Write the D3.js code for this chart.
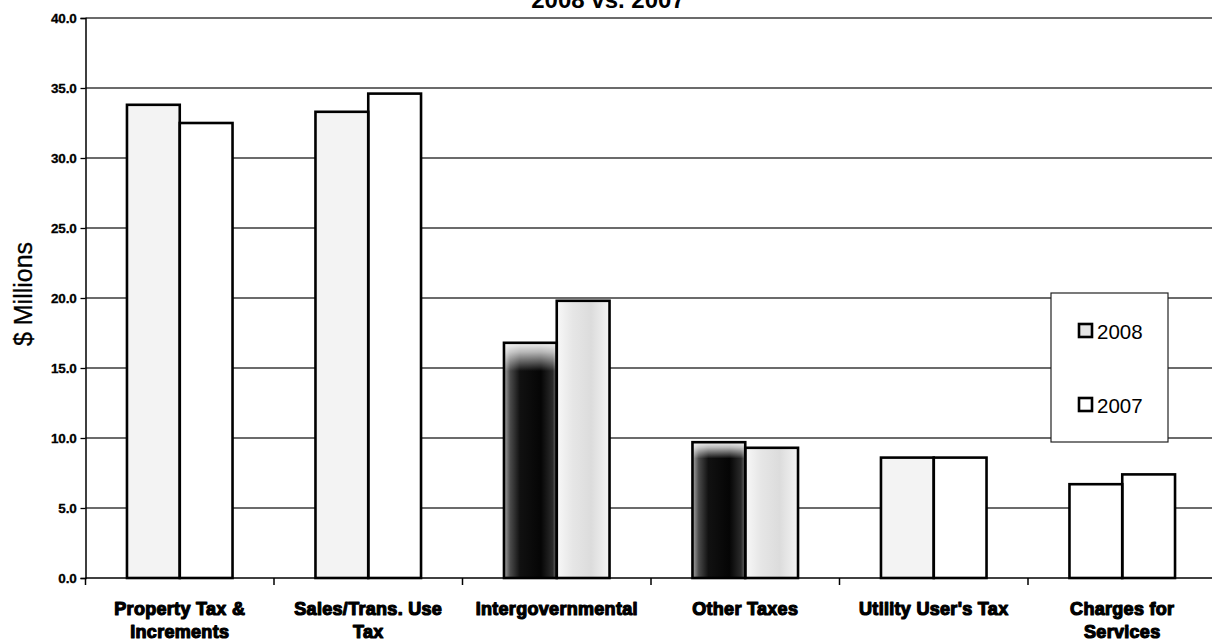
<!DOCTYPE html>
<html>
<head>
<meta charset="utf-8">
<script src="https://cdn.jsdelivr.net/npm/d3@7"></script>
<style>
  html, body { margin: 0; padding: 0; background: #fff; }
  svg { display: block; }
</style>
</head>
<body>
<svg id="chart" width="1212" height="644"></svg>
<script>
// ---- data ----
const title = "2008 vs. 2007";
const yTitle = "$ Millions";
const categories = [
  "Property Tax &\nIncrements",
  "Sales/Trans. Use\nTax",
  "Intergovernmental",
  "Other Taxes",
  "Utility User's Tax",
  "Charges for\nServices"
];
const seriesNames = ["2008", "2007"];
const values2008 = [33.8, 33.3, 16.8, 9.7, 8.6, 6.7];
const values2007 = [32.5, 34.6, 19.8, 9.3, 8.6, 7.4];
const yTicks = [0, 5, 10, 15, 20, 25, 30, 35, 40];

// ---- layout ----
const W = 1212, H = 644;
const plotLeft = 85.5, plotTop = 18, plotBottom = 578;
const step = 188.5;
const plotRight = plotLeft + step * categories.length;

const svg = d3.select("#chart");

const defs = svg.append("defs");
const dark = defs.append("linearGradient").attr("id", "darkGrad")
  .attr("x1", "0").attr("x2", "1").attr("y1", "0").attr("y2", "0");
[["0%", "#a8a8a8"], ["12%", "#4a4a4a"], ["30%", "#111"], ["70%", "#050505"], ["92%", "#2a2a2a"], ["100%", "#707070"]]
  .forEach(([o, c]) => dark.append("stop").attr("offset", o).attr("stop-color", c));
const topFade = defs.append("linearGradient").attr("id", "topFade")
  .attr("x1", "0").attr("x2", "0").attr("y1", "0").attr("y2", "1");
[["0%", "#fff", 0.95], ["4%", "#fff", 0.7], ["12%", "#fff", 0], ["100%", "#fff", 0]]
  .forEach(([o, c, a]) => topFade.append("stop").attr("offset", o).attr("stop-color", c).attr("stop-opacity", a));
const lightGrad = defs.append("linearGradient").attr("id", "lightGrad")
  .attr("x1", "0").attr("x2", "1").attr("y1", "0").attr("y2", "0");
[["0%", "#f8f8f8"], ["30%", "#e6e6e6"], ["65%", "#dcdcdc"], ["100%", "#f4f4f4"]]
  .forEach(([o, c]) => lightGrad.append("stop").attr("offset", o).attr("stop-color", c));

const y = d3.scaleLinear().domain([0, 40]).range([plotBottom, plotTop]);
const x0 = d3.scaleBand().domain(categories).range([plotLeft, plotRight])
  .paddingInner(0.44).paddingOuter(0.22);
const x1 = d3.scaleBand().domain(seriesNames).range([0, x0.bandwidth()]);

// gridlines
svg.append("g").selectAll("line").data(yTicks.filter(d => d > 0)).join("line")
  .attr("x1", plotLeft).attr("x2", W + 10)
  .attr("y1", d => y(d)).attr("y2", d => y(d))
  .attr("stroke", "#3a3a3a").attr("stroke-width", 1.3);

// y axis
const yAxis = d3.axisLeft(y).tickValues(yTicks).tickSize(5).tickPadding(4)
  .tickFormat(d3.format(".1f"));
const gy = svg.append("g").attr("transform", `translate(${plotLeft},0)`).call(yAxis);
gy.select(".domain").attr("stroke", "#000").attr("stroke-width", 1.5);
gy.selectAll(".tick line").attr("stroke", "#000").attr("stroke-width", 1.3);
gy.selectAll(".tick text")
  .attr("font-family", "'Liberation Sans', Arial, sans-serif")
  .attr("font-weight", "bold").attr("font-size", 13.5).attr("fill", "#000")
  .attr("stroke", "#000").attr("stroke-width", 0.3)
  .attr("letter-spacing", -0.2);

// bars
const darkCats = new Set(["Intergovernmental", "Other Taxes"]);
function fillFor(cat, s) {
  if (darkCats.has(cat)) return s === "2008" ? "url(#darkGrad)" : "url(#lightGrad)";
  if (s === "2008" && cat !== categories[5]) return "#f3f3f3";
  return "#fff";
}
const rows = categories.map((c, i) => ({ cat: c, vals: [
  { s: seriesNames[0], v: values2008[i] },
  { s: seriesNames[1], v: values2007[i] }
]}));
const groups = svg.append("g").selectAll("g").data(rows).join("g")
  .attr("transform", d => `translate(${x0(d.cat)},0)`);
groups.selectAll("rect.bar").data(d => d.vals.map(v => ({ ...v, cat: d.cat }))).join("rect")
  .attr("class", "bar")
  .attr("x", d => x1(d.s)).attr("width", x1.bandwidth())
  .attr("y", d => y(d.v)).attr("height", d => y(0) - y(d.v))
  .attr("fill", d => fillFor(d.cat, d.s));
groups.selectAll("rect.fade").data(d => d.vals.filter(v => darkCats.has(d.cat) && v.s === "2008").map(v => ({ ...v, cat: d.cat }))).join("rect")
  .attr("class", "fade")
  .attr("x", d => x1(d.s)).attr("width", x1.bandwidth())
  .attr("y", d => y(d.v)).attr("height", d => y(0) - y(d.v))
  .attr("fill", "url(#topFade)");
groups.selectAll("rect.outline").data(d => d.vals).join("rect")
  .attr("class", "outline")
  .attr("x", d => x1(d.s)).attr("width", x1.bandwidth())
  .attr("y", d => y(d.v)).attr("height", d => y(0) - y(d.v))
  .attr("fill", "none").attr("stroke", "#000").attr("stroke-width", 2.6);

// x axis
const xTickScale = d3.scaleLinear().domain([0, categories.length]).range([plotLeft, plotRight]);
const gx = svg.append("g").attr("transform", `translate(0,${plotBottom})`);
gx.append("line").attr("x1", plotLeft).attr("x2", W + 10).attr("y1", 0).attr("y2", 0)
  .attr("stroke", "#000").attr("stroke-width", 1.5);
gx.selectAll("line.tk").data(d3.range(categories.length + 1)).join("line")
  .attr("class", "tk")
  .attr("x1", d => xTickScale(d)).attr("x2", d => xTickScale(d))
  .attr("y1", 0).attr("y2", 7).attr("stroke", "#000").attr("stroke-width", 1.5);

const labels = svg.append("g");
categories.forEach(c => {
  const t = labels.append("text")
    .attr("x", x0(c) + x0.bandwidth() / 2).attr("y", 615)
    .attr("text-anchor", "middle")
    .attr("font-family", "'Liberation Sans', Arial, sans-serif")
    .attr("font-weight", "bold").attr("font-size", 18)
    .attr("letter-spacing", 0.3)
    .attr("fill", "#000").attr("stroke", "#000").attr("stroke-width", 1.2)
    .attr("stroke-linejoin", "round");
  c.split("\n").forEach((line, i) => {
    t.append("tspan").attr("x", x0(c) + x0.bandwidth() / 2)
      .attr("dy", i === 0 ? 0 : 23).text(line);
  });
});

// title
svg.append("text").attr("x", 608).attr("y", 8).attr("text-anchor", "middle")
  .attr("font-family", "'Liberation Sans', Arial, sans-serif")
  .attr("font-weight", "bold").attr("font-size", 24).attr("fill", "#000")
  .text(title);

// y title
svg.append("text").attr("transform", "translate(32,294) rotate(-90)")
  .attr("text-anchor", "middle")
  .attr("font-family", "'Liberation Sans', Arial, sans-serif")
  .attr("font-size", 25).attr("fill", "#000")
  .attr("stroke", "#000").attr("stroke-width", 0.3)
  .text(yTitle);

// legend
const lg = svg.append("g").attr("transform", "translate(1051,293)");
lg.append("rect").attr("width", 117).attr("height", 149)
  .attr("fill", "#fff").attr("stroke", "#222").attr("stroke-width", 1.2);
const legendFill = ["#e4e4e4", "#fff"];
seriesNames.forEach((s, i) => {
  const yy = 38 + i * 74;
  lg.append("rect").attr("x", 28).attr("y", yy - 7).attr("width", 13).attr("height", 13)
    .attr("fill", legendFill[i]).attr("stroke", "#000").attr("stroke-width", 2.6);
  lg.append("text").attr("x", 46).attr("y", yy + 8)
    .attr("font-family", "'Liberation Sans', Arial, sans-serif")
    .attr("font-size", 20.5).attr("fill", "#000").text(s);
});
</script>
</body>
</html>
